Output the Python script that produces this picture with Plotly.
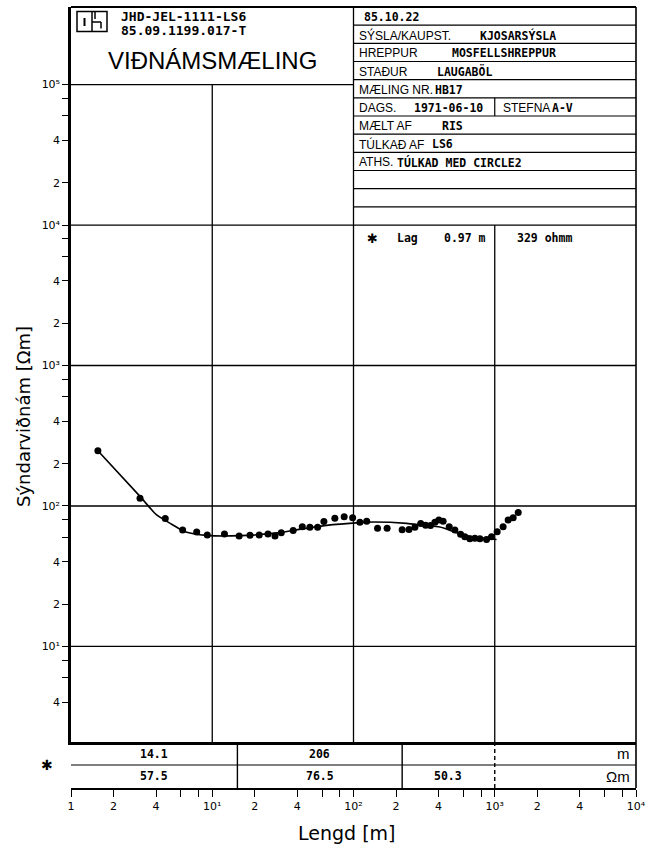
import math
import plotly.graph_objects as go

# ---------------- data ----------------
ab2 = [1.55, 3.08, 4.65, 6.17, 7.76, 9.22, 12.2, 15.5, 18.5, 21.5, 24.8, 27.8,
       30.8, 37.4, 43.4, 49.1, 55.7, 61.7, 73.8, 85.9, 98.6, 111, 124, 148,
       173, 221, 247, 272, 299, 324, 351, 377, 402, 431, 476, 522, 573, 614,
       666, 723, 785, 875, 949, 1040, 1146, 1244, 1350, 1466]
rho_a = [247, 113.5, 81.3, 67.4, 65.2, 62.1, 63.1, 61.1, 61.8, 62.1, 63.1, 61.1,
         64.6, 67.0, 71.2, 70.5, 70.5, 77.4, 81.7, 84.0, 82.6, 76.6, 77.8, 69.3,
         69.3, 67.8, 68.0, 70.5, 75.2, 72.8, 72.5, 76.6, 79.4, 77.8, 71.2, 67.4,
         62.8, 60.4, 58.4, 59.0, 58.4, 57.8, 60.4, 65.6, 71.2, 79.4, 82.6, 89.7]

model_ab2 = [1.55, 3.08, 4.04, 5.16, 6.41, 9.13, 15.7, 30.1, 37.2, 64.5, 111,
             137, 238, 310, 409, 537, 700, 1030]
model_rho = [247, 117, 86.3, 74.1, 65.6, 61.8, 61.5, 64.6, 67.0, 72.8, 76.1,
             76.9, 75.2, 72.8, 70.8, 64.6, 60.4, 57.8]

layer_thick = [0.97, 14.1, 206]
layer_rho = [329, 57.5, 76.5, 50.3]

header_codes = ["JHD-JEL-1111-LS6", "85.09.1199.017-T"]
chart_title = "VIÐNÁMSMÆLING"
info_labels = ["", "SÝSLA/KAUPST.", "HREPPUR", "STAÐUR", "MÆLING NR.", "DAGS.",
               "MÆLT AF", "TÚLKAÐ AF", "ATHS."]
info_values = ["85.10.22", "KJOSARSÝSLA", "MOSFELLSHREPPUR", "LAUGABÖL", "HB17",
               "1971-06-10", "RIS", "LS6", "TÚLKAD MED CIRCLE2"]
stefna_label, stefna_value = "STEFNA", "A-V"

x_title = "Lengd [m]"
y_title = "Sýndarviðnám [Ωm]"

# ---------------- layout geometry ----------------
W, H = 662, 853
PL, PR, PT, PB, TB = 71, 636, 7, 742, 788
XR = [0, 4]
YR = [0.320, 5.552]
N_ROWS = 12
VALUE_X = [362, 478, 450, 435, 433, 412, 440, 430, 395]
LABEL_X = 357

def px(x):
    return x / W

def py(y):
    return 1 - y / H

def xf(v):
    return (math.log10(v) - XR[0]) / (XR[1] - XR[0])

def yf(v):
    return (math.log10(v) - YR[0]) / (YR[1] - YR[0])

def ypix_of(v):
    return PB - yf(v) * (PB - PT)

BLACK = "#000"
MONO = "DejaVu Sans Mono"
SANS = "DejaVu Sans"
LSANS = "Liberation Sans"
SUP = str.maketrans("0123456789", "⁰¹²³⁴⁵⁶⁷⁸⁹")

fig = go.Figure()

fig.add_trace(go.Scatter(x=model_ab2, y=model_rho, mode="lines",
                         line=dict(color=BLACK, width=1.6, shape="spline", smoothing=0.6),
                         xaxis="x", yaxis="y", hoverinfo="skip"))
fig.add_trace(go.Scatter(x=ab2, y=rho_a, mode="markers",
                         marker=dict(color=BLACK, size=7),
                         xaxis="x", yaxis="y"))
# carrier trace so the layer table axes are drawn
fig.add_trace(go.Scatter(x=[10 ** XR[0], 10 ** XR[1]], y=[0.5, 0.5], mode="markers",
                         marker=dict(opacity=0), xaxis="x2", yaxis="y2",
                         hoverinfo="skip"))

shapes = []

def line(x0, y0, x1, y1, xref="paper", yref="paper", w=1.3, dash=None):
    d = dict(type="line", x0=x0, y0=y0, x1=x1, y1=y1, xref=xref, yref=yref,
             line=dict(color=BLACK, width=w))
    if dash:
        d["line"]["dash"] = dash
    shapes.append(d)

# frame
line(px(PL), py(PT), px(PR), py(PT), w=2)
line(px(PR), py(PT), px(PR), py(TB), w=1.6)

# grid lines (decades)
line(xf(10), 0, xf(10), yf(1e5), "x domain", "y domain")
line(xf(100), 0, xf(100), 1, "x domain", "y domain")
line(xf(1000), 0, xf(1000), yf(1e4), "x domain", "y domain")
line(0, yf(1e5), xf(100), yf(1e5), "x domain", "y domain")
for v in [1e4, 1e3, 1e2, 1e1]:
    line(0, yf(v), 1, yf(v), "x domain", "y domain")

# header info table rows
top_f, bot_f = 1.0, yf(1e4)
row_h = (top_f - bot_f) / N_ROWS
for k in range(1, N_ROWS):
    yy = top_f - k * row_h
    line(xf(100), yy, 1, yy, "x domain", "y domain", w=1.2)
line(xf(1000), top_f - 5 * row_h, xf(1000), top_f - 6 * row_h, "x domain", "y domain", w=1.2)

# logo
shapes.append(dict(type="rect", x0=px(77), x1=px(107), y0=py(11.5), y1=py(31.5),
                   xref="paper", yref="paper", line=dict(color=BLACK, width=1.5)))
line(px(92), py(11.5), px(92), py(31.5), w=1.5)
line(px(84.5), py(18), px(84.5), py(26), w=2)
line(px(92), py(22), px(101), py(22), w=1.5)
line(px(101), py(22), px(101), py(28.5), w=1.5)
line(px(95), py(11.5), px(95), py(19), w=1.5)

# bottom layer table
line(0, 0.5, 1, 0.5, "x2 domain", "y2 domain", w=1.2)
cum = []
s = 0
for t in layer_thick:
    s += t
    cum.append(s)
for c in cum[1:]:
    line(xf(c), 0, xf(c), 1, "x2 domain", "y2 domain", w=1.4)
line(xf(1000), 0, xf(1000), 1, "x2 domain", "y2 domain", w=1.4, dash="4px,3px")

annotations = []

def txt(x, y, text, size=11, family=SANS, xanchor="left", xref="paper", yref="paper",
        angle=0, bold=False):
    annotations.append(dict(x=x, y=y, xref=xref, yref=yref, text=text, showarrow=False,
                            xanchor=xanchor, yanchor="middle", textangle=angle,
                            font=dict(family=family, size=size, color=BLACK,
                                      weight="bold" if bold else "normal")))

# header left
txt(px(119), py(16.5), header_codes[0], size=13, family=MONO, bold=True)
txt(px(119), py(31), header_codes[1], size=13, family=MONO, bold=True)
txt(px(212), py(61), chart_title, size=24, family=LSANS, xanchor="center")

# header info rows
row_px = (ypix_of(1e4) - PT) / N_ROWS
for i, (lab, val) in enumerate(zip(info_labels, info_values)):
    yc = PT + (i + 0.5) * row_px + 1
    if lab:
        txt(px(LABEL_X), py(yc), lab, size=12, family=LSANS)
    txt(px(VALUE_X[i]), py(yc), val, size=11.5, family=MONO, bold=True)
yc = PT + 5.5 * row_px + 1
txt(px(501), py(yc), stefna_label, size=12, family=LSANS)
txt(px(550), py(yc), stefna_value, size=11.5, family=MONO, bold=True)

# first layer row
ylag = ypix_of(1e4) + 13
txt(px(372), py(ylag), "✱", size=13, family=SANS, xanchor="center")
txt(px(395), py(ylag), "Lag", size=11.5, family=MONO, bold=True)
txt(px(442), py(ylag), f"{layer_thick[0]:.2f} m", size=11.5, family=MONO, bold=True)
txt(px(515), py(ylag), f"{layer_rho[0]:g} ohmm", size=11.5, family=MONO, bold=True)

# bottom table texts
bounds = [1] + cum[1:] + [1000]
for i in range(len(layer_rho) - 1):
    lo, hi = bounds[i], bounds[i + 1]
    mid = (math.log10(lo) + math.log10(hi)) / 2
    xm = (mid - XR[0]) / (XR[1] - XR[0])
    if i + 1 < len(layer_thick):
        txt(xm, 0.75, f"{layer_thick[i + 1]:g}", size=11.5, family=MONO,
            xanchor="center", xref="x2 domain", yref="y2 domain", bold=True)
    txt(xm, 0.27, f"{layer_rho[i + 1]:g}", size=11.5, family=MONO,
        xanchor="center", xref="x2 domain", yref="y2 domain", bold=True)
txt(px(632), py(753), "m", size=15, family=LSANS, xanchor="right")
txt(px(632), py(776), "Ωm", size=15, family=LSANS, xanchor="right")
txt(px(47), py(765), "✱", size=14, family=SANS, xanchor="center")

# axis titles
txt(px(23), py(417), y_title, size=18, family=SANS, xanchor="center", angle=-90)
txt(px(346), py(833), x_title, size=19, family=SANS, xanchor="center")

# ticks: labelled majors at 1, 2, 4 per decade, unlabelled minors at 6, 8
def log_ticks(lo, hi):
    vals, texts, minors = [], [], []
    for k in range(-1, 7):
        for d in [1, 2, 4, 6, 8]:
            v = d * 10 ** k
            if lo - 1e-9 <= math.log10(v) <= hi + 1e-9:
                if d == 1:
                    vals.append(v)
                    texts.append("1" if k == 0 else "10" + str(k).translate(SUP))
                elif d in (2, 4):
                    vals.append(v)
                    texts.append(str(d))
                else:
                    minors.append(v)
    return vals, texts, minors

xt_v, xt_t, xt_m = log_ticks(XR[0], XR[1])
yt_v, yt_t, yt_m = log_ticks(YR[0], 5)

tickfont = dict(family=SANS, size=11, color=BLACK)

fig.update_layout(
    width=W, height=H,
    margin=dict(l=0, r=0, t=0, b=0),
    paper_bgcolor="white", plot_bgcolor="white",
    showlegend=False,
    xaxis=dict(type="log", range=XR, domain=[PL / W, PR / W], anchor="y",
               showgrid=False, zeroline=False, showticklabels=False, ticks="",
               showline=True, linecolor=BLACK, linewidth=2.5),
    yaxis=dict(type="log", range=YR, domain=[1 - PB / H, 1 - PT / H], anchor="x",
               showgrid=False, zeroline=False, tickmode="array", tickvals=yt_v,
               ticktext=yt_t, ticks="outside", ticklen=6, tickwidth=1.3,
               tickcolor=BLACK, tickfont=tickfont, showline=True, linecolor=BLACK,
               linewidth=2.5, automargin=False,
               minor=dict(tickmode="array", tickvals=yt_m, ticks="outside", ticklen=6,
                          tickwidth=1.3, tickcolor=BLACK, showgrid=False)),
    xaxis2=dict(type="log", range=XR, domain=[PL / W, PR / W], anchor="y2",
                showgrid=False, zeroline=False, tickmode="array", tickvals=xt_v,
                ticktext=xt_t, ticks="outside", ticklen=7, tickwidth=1.3,
                tickcolor=BLACK, tickfont=tickfont, showline=True, linecolor=BLACK,
                linewidth=2, automargin=False,
                minor=dict(tickmode="array", tickvals=xt_m, ticks="outside", ticklen=7,
                           tickwidth=1.3, tickcolor=BLACK, showgrid=False)),
    yaxis2=dict(range=[0, 1], domain=[1 - TB / H, 1 - PB / H], anchor="x2",
                showgrid=False, zeroline=False, showticklabels=False, ticks="",
                showline=False),
    shapes=shapes,
    annotations=annotations,
)

fig.write_html("out.html")
